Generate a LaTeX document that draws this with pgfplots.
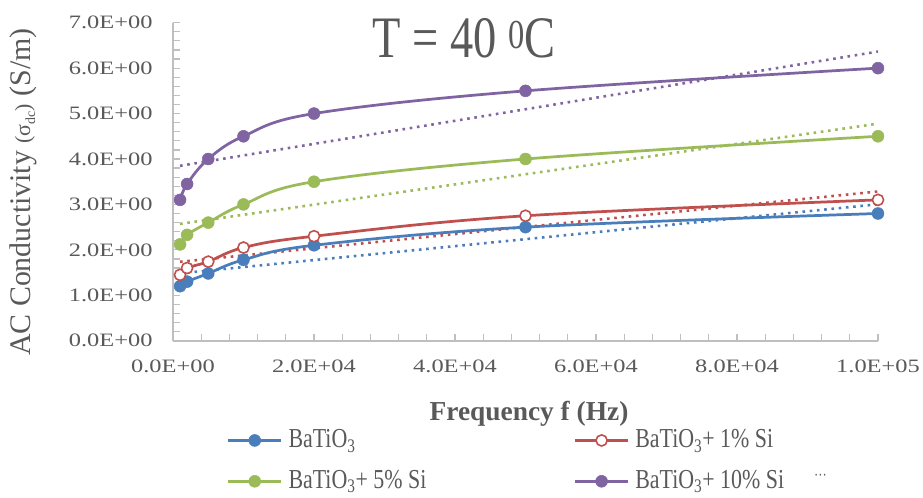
\documentclass[border=0pt]{standalone}
\usepackage{fontspec}
\setmainfont{Liberation Serif}
\newfontfamily\tickfont[FakeStretch=1.29]{Liberation Serif}
\newfontfamily\legfont[FakeStretch=0.8]{Liberation Serif}
\newfontfamily\titlefont[FakeStretch=0.79]{Liberation Serif}
\usepackage{pgfplots}
\pgfplotsset{compat=1.18}
\definecolor{cblue}{HTML}{4A7EBB}
\definecolor{cred}{HTML}{C0504D}
\definecolor{cgreen}{HTML}{9BBB59}
\definecolor{cpurple}{HTML}{8064A2}
\definecolor{txt}{HTML}{595959}
\definecolor{axg}{HTML}{BFBFBF}
\begin{document}
\begin{tikzpicture}
\begin{axis}[
  scale only axis, width=705bp, height=318bp,
  xmin=0, xmax=100000, ymin=0, ymax=7,
  clip=false,
  axis x line*=bottom, axis y line*=left,
  axis line style={-, draw=axg, line width=2pt},
  xtick={0,20000,40000,60000,80000,100000},
  xticklabels={0.0E+00,2.0E+04,4.0E+04,6.0E+04,8.0E+04,1.0E+05},
  scaled x ticks=false, scaled y ticks=false,
  ytick={0,1,2,3,4,5,6,7},
  yticklabels={0.0E+00,1.0E+00,2.0E+00,3.0E+00,4.0E+00,5.0E+00,6.0E+00,7.0E+00},
  minor x tick num=4, minor y tick num=4,
  tick align=inside, major tick length=7pt, minor tick length=7pt,
  tick style={draw=axg, line width=1.2pt},
  tick label style={font=\tickfont\fontsize{19}{21}\selectfont, text=txt},
  xticklabel shift=16pt,
  yticklabel style={xshift=-17pt},
  xlabel={Frequency f (Hz)},
  xlabel style={at={(axis description cs:0.505,-0.2494)}, anchor=base, font=\fontsize{27.5}{30}\selectfont\bfseries, text=txt},
  ylabel={AC Conductivity {\fontsize{22}{24}\selectfont(σ\raisebox{-5pt}{\fontsize{14}{14}\selectfont dc})} (S/m)},
  ylabel style={at={(axis description cs:-0.2128,0.4676)}, anchor=center, font=\fontsize{30}{32}\selectfont, text=txt},
  legend columns=2, legend cell align=left,
  legend style={draw=none, fill=none, inner sep=0pt, outer sep=0pt,
    at={(axis description cs:0.0766,-0.2745)}, anchor=north west,
    font=\legfont\fontsize{27.5}{30}\selectfont, text=txt, row sep=16pt,
    nodes={inner sep=2pt, text height=18pt, text depth=3pt},
    /tikz/every odd column/.append style={column sep=4pt},
    /tikz/every even column/.append style={column sep=146pt}},
  legend image code/.code={\draw[mark repeat=2,mark phase=2] plot coordinates {(0pt,0pt) (26.5pt,0pt) (53pt,0pt)};},
]
\coordinate (O) at (rel axis cs:0,0);
% linear trend lines
\addplot[forget plot, cblue, line width=2.6pt, dash pattern=on 2.6pt off 4.7pt] coordinates {(1000,1.483) (100000,3.003)};
\addplot[forget plot, cred, line width=2.6pt, dash pattern=on 2.6pt off 4.7pt] coordinates {(1000,1.737) (100000,3.285)};
\addplot[forget plot, cgreen, line width=2.6pt, dash pattern=on 2.6pt off 4.7pt] coordinates {(1000,2.572) (100000,4.778)};
\addplot[forget plot, cpurple, line width=2.6pt, dash pattern=on 2.6pt off 4.7pt] coordinates {(1000,3.850) (100000,6.365)};
% data
\addplot[cblue, line width=2.75pt, smooth, tension=0.6, mark=*, mark size=6pt, mark options={solid, fill=cblue, draw=cblue, line width=0.5pt}]
  coordinates {(1000,1.2) (2000,1.3) (5000,1.48) (10000,1.78) (20000,2.1) (50000,2.5) (100000,2.8)};
\addlegendentry{BaTiO\textsubscript{3}}
\addplot[cred, line width=2.75pt, smooth, tension=0.6, mark=*, mark size=5.6pt, mark options={solid, fill=white, draw=cred, line width=1.6pt}]
  coordinates {(1000,1.45) (2000,1.6) (5000,1.74) (10000,2.05) (20000,2.3) (50000,2.75) (100000,3.1)};
\addlegendentry{BaTiO\textsubscript{3}+ 1\% Si}
\addplot[cgreen, line width=2.75pt, smooth, tension=0.6, mark=*, mark size=6pt, mark options={solid, fill=cgreen, draw=cgreen, line width=0.5pt}]
  coordinates {(1000,2.12) (2000,2.33) (5000,2.6) (10000,3.0) (20000,3.5) (50000,4.0) (100000,4.5)};
\addlegendentry{BaTiO\textsubscript{3}+ 5\% Si}
\addplot[cpurple, line width=2.75pt, smooth, tension=0.6, mark=*, mark size=6pt, mark options={solid, fill=cpurple, draw=cpurple, line width=0.5pt}]
  coordinates {(1000,3.1) (2000,3.45) (5000,4.0) (10000,4.5) (20000,5.0) (50000,5.5) (100000,6.0)};
\addlegendentry{BaTiO\textsubscript{3}+ 10\% Si\hspace{30pt}\raisebox{8pt}{\fontsize{16}{16}\selectfont ···}}
\node[anchor=base, font=\titlefont\fontsize{59}{62}\selectfont, text=txt] at (axis description cs:0.4128,0.892) {T = 40 \textsuperscript{0}C};
\end{axis}
\pgfresetboundingbox
\path (O) ++(-173bp,-157.3bp) rectangle ++(923bp,498bp);
\end{tikzpicture}
\end{document}
